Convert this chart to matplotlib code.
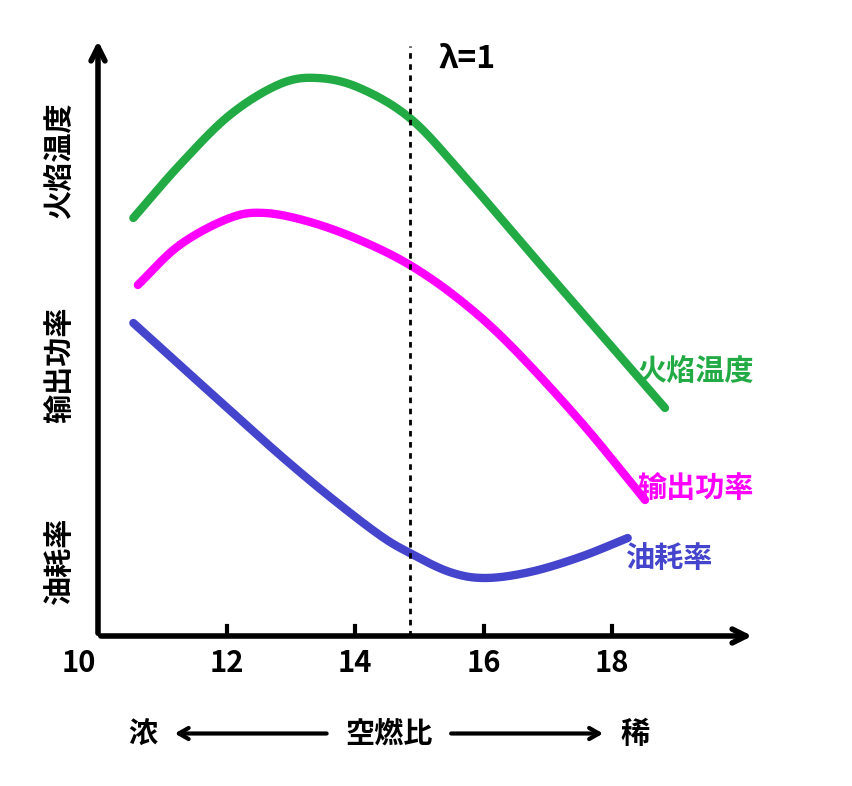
import numpy as np
import matplotlib
matplotlib.use("Agg")
import matplotlib.pyplot as plt

plt.rcParams["font.family"] = ["Noto Sans CJK SC", "Noto Sans CJK JP", "DejaVu Sans"]
plt.rcParams["font.sans-serif"] = ["Noto Sans CJK SC", "Noto Sans CJK JP", "DejaVu Sans"]

x_ticks = [12, 14, 16, 18]
tick_labels = ["12", "14", "16", "18"]

green_x = [10.55, 11.27, 12.05, 12.83, 13.42, 14.07, 14.85, 15.63, 16.80, 18.82]
green_y = [8.36, 9.42, 10.42, 11.04, 11.16, 10.96, 10.36, 9.30, 7.55, 4.56]
mag_x = [10.62, 11.27, 12.05, 12.60, 13.30, 14.07, 14.85, 15.63, 16.41, 17.50, 18.51]
mag_y = [7.02, 7.82, 8.36, 8.46, 8.28, 7.92, 7.42, 6.72, 5.82, 4.30, 2.72]
blue_x = [10.55, 11.27, 12.05, 12.83, 13.61, 14.38, 14.85, 15.47, 16.02, 16.72, 17.50, 18.24]
blue_y = [6.26, 5.42, 4.52, 3.62, 2.78, 2.02, 1.66, 1.28, 1.16, 1.28, 1.58, 1.96]

def smooth(xs, ys, n=40):
    P = np.column_stack([xs, ys])
    P = np.vstack([2*P[0]-P[1], P, 2*P[-1]-P[-2]])
    out = []
    for i in range(1, len(P)-2):
        p0, p1, p2, p3 = P[i-1], P[i], P[i+1], P[i+2]
        t = np.linspace(0, 1, n)[:, None]
        out.append(0.5*((2*p1) + (-p0+p2)*t + (2*p0-5*p1+4*p2-p3)*t**2 + (-p0+3*p1-3*p2+p3)*t**3))
    o = np.vstack(out)
    return o[:, 0], o[:, 1]

fig = plt.figure(figsize=(8.52, 7.86), dpi=100)
ax = fig.add_axes([98/852, 150/786, 657/852, 598/786])
ax.set_xlim(10, 20.22)
ax.set_ylim(0, 11.96)
for s in ax.spines.values():
    s.set_visible(False)
ax.set_xticks([]); ax.set_yticks([])

for xs, ys, c in [(green_x, green_y, "#22aa44"), (mag_x, mag_y, "#ff00ff"), (blue_x, blue_y, "#4444cc")]:
    sx, sy = smooth(xs, ys)
    ax.plot(sx, sy, color=c, lw=6, solid_capstyle="round")

ax.annotate("", xy=(20.22, 0), xytext=(10, 0), xycoords="data",
            arrowprops=dict(arrowstyle="->,head_length=1.0,head_width=0.5", lw=4, color="black"), annotation_clip=False)
ax.annotate("", xy=(10, 11.96), xytext=(10, 0), xycoords="data",
            arrowprops=dict(arrowstyle="->,head_length=1.0,head_width=0.5", lw=4, color="black"), annotation_clip=False)
for t, l in zip(x_ticks, tick_labels):
    ax.plot([t, t], [0, 0.2], color="black", lw=3)
    ax.text(t, -0.25, l, ha="center", va="top", fontsize=21, fontweight="bold")
ax.text(9.7, -0.25, "10", ha="center", va="top", fontsize=21, fontweight="bold")

ax.plot([14.85, 14.85], [0, 11.8], color="black", lw=2, ls=(0, (2, 2)))
ax.text(15.3, 11.55, "λ=1", ha="left", va="center", fontsize=23, fontweight="bold")

ax.text(19.3, 5.3, "火焰温度", color="#22aa44", fontsize=21, fontweight="bold", ha="center", va="center")
ax.text(19.3, 2.95, "输出功率", color="#ff00ff", fontsize=21, fontweight="bold", ha="center", va="center")
ax.text(18.9, 1.55, "油耗率", color="#4444cc", fontsize=21, fontweight="bold", ha="center", va="center")

for txt, yy in [("油耗率", 1.52), ("输出功率", 5.42), ("火焰温度", 9.52)]:
    ax.text(9.4, yy, txt, rotation=90, fontsize=21, fontweight="bold", ha="center", va="center")

yb = -1.95
ax.text(10.7, yb, "浓", fontsize=21, fontweight="bold", ha="center", va="center")
ax.text(14.53, yb, "空燃比", fontsize=21, fontweight="bold", ha="center", va="center")
ax.text(18.35, yb, "稀", fontsize=21, fontweight="bold", ha="center", va="center")
ax.annotate("", xy=(11.15, yb), xytext=(13.6, yb),
            arrowprops=dict(arrowstyle="->,head_length=0.7,head_width=0.4", lw=3, color="black"), annotation_clip=False)
ax.annotate("", xy=(17.9, yb), xytext=(15.45, yb),
            arrowprops=dict(arrowstyle="->,head_length=0.7,head_width=0.4", lw=3, color="black"), annotation_clip=False)

fig.savefig("out.png", dpi=100)
